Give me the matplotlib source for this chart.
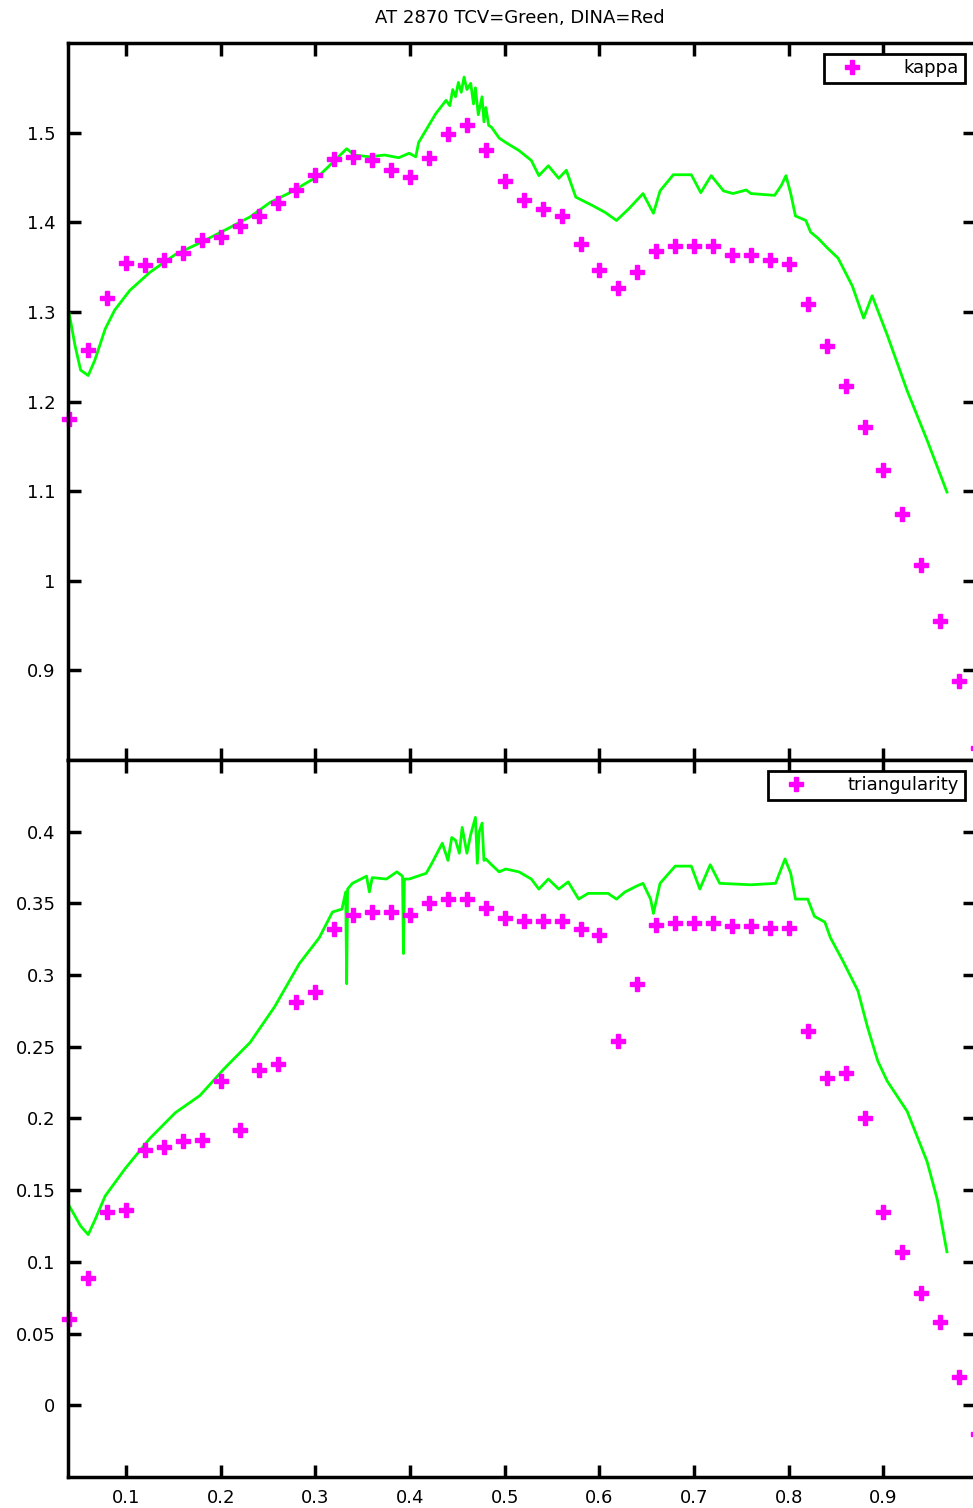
import matplotlib
matplotlib.use("Agg")
import matplotlib.pyplot as plt
import numpy as np

# DINA points (every 0.02 in normalised flux)
x_dina = [0.04, 0.06, 0.08, 0.10, 0.12, 0.14, 0.16, 0.18, 0.20, 0.22, 0.24, 0.26,
          0.28, 0.30, 0.32, 0.34, 0.36, 0.38, 0.40, 0.42, 0.44, 0.46, 0.48, 0.50,
          0.52, 0.54, 0.56, 0.58, 0.60, 0.62, 0.64, 0.66, 0.68, 0.70, 0.72, 0.74,
          0.76, 0.78, 0.80, 0.82, 0.84, 0.86, 0.88, 0.90, 0.92, 0.94, 0.96, 0.98, 1.00]
kappa_dina = [1.180, 1.257, 1.316, 1.354, 1.352, 1.358, 1.366, 1.380, 1.384, 1.396,
              1.407, 1.422, 1.436, 1.453, 1.471, 1.473, 1.469, 1.458, 1.451, 1.472,
              1.498, 1.509, 1.481, 1.446, 1.425, 1.415, 1.407, 1.376, 1.347, 1.327,
              1.345, 1.368, 1.374, 1.373, 1.373, 1.364, 1.363, 1.358, 1.353, 1.309,
              1.262, 1.217, 1.171, 1.124, 1.074, 1.018, 0.955, 0.888, 0.813]
tri_dina = [0.060, 0.089, 0.135, 0.136, 0.178, 0.180, 0.184, 0.185, 0.226, 0.192,
            0.234, 0.238, 0.281, 0.288, 0.332, 0.342, 0.344, 0.344, 0.342, 0.350,
            0.353, 0.353, 0.347, 0.340, 0.338, 0.338, 0.338, 0.332, 0.328, 0.254,
            0.294, 0.335, 0.336, 0.336, 0.336, 0.334, 0.334, 0.333, 0.333, 0.261,
            0.228, 0.232, 0.200, 0.135, 0.107, 0.078, 0.058, 0.020, -0.020]

# TCV profiles
x_tcv_k = [0.040, 0.046, 0.052, 0.060, 0.067, 0.078, 0.088, 0.104, 0.125, 0.152,
           0.178, 0.204, 0.231, 0.252, 0.273, 0.294, 0.304, 0.333, 0.341, 0.357,
           0.373, 0.388, 0.399, 0.406, 0.409, 0.427, 0.438, 0.442, 0.445, 0.448,
           0.451, 0.454, 0.457, 0.460, 0.464, 0.467, 0.469, 0.472, 0.476, 0.478,
           0.480, 0.483, 0.486, 0.494, 0.501, 0.515, 0.528, 0.536, 0.546, 0.557,
           0.565, 0.575, 0.592, 0.606, 0.618, 0.631, 0.646, 0.657, 0.664, 0.678,
           0.697, 0.707, 0.718, 0.731, 0.741, 0.755, 0.760, 0.785, 0.792, 0.797,
           0.802, 0.807, 0.818, 0.823, 0.831, 0.841, 0.852, 0.867, 0.879, 0.888,
           0.904, 0.925, 0.946, 0.967]
kappa_tcv = [1.298, 1.263, 1.235, 1.229, 1.246, 1.281, 1.302, 1.324, 1.344, 1.364,
             1.377, 1.391, 1.406, 1.422, 1.433, 1.446, 1.452, 1.482, 1.475, 1.473,
             1.475, 1.472, 1.477, 1.473, 1.489, 1.521, 1.536, 1.530, 1.548, 1.540,
             1.556, 1.545, 1.562, 1.548, 1.555, 1.532, 1.550, 1.520, 1.540, 1.512,
             1.528, 1.508, 1.506, 1.494, 1.489, 1.480, 1.469, 1.452, 1.463, 1.449,
             1.458, 1.428, 1.419, 1.411, 1.402, 1.415, 1.432, 1.410, 1.435, 1.453,
             1.453, 1.433, 1.452, 1.435, 1.432, 1.436, 1.432, 1.430, 1.441, 1.452,
             1.432, 1.407, 1.402, 1.389, 1.382, 1.371, 1.360, 1.329, 1.293, 1.318,
             1.274, 1.212, 1.157, 1.099]

x_tcv_t = [0.040, 0.052, 0.060, 0.067, 0.078, 0.099, 0.125, 0.152, 0.178, 0.204,
           0.231, 0.257, 0.283, 0.304, 0.318, 0.328, 0.332, 0.333, 0.334, 0.339,
           0.354, 0.357, 0.360, 0.375, 0.386, 0.392, 0.393, 0.394, 0.399, 0.417,
           0.423, 0.434, 0.440, 0.444, 0.448, 0.452, 0.455, 0.460, 0.464, 0.469,
           0.471, 0.473, 0.476, 0.478, 0.480, 0.486, 0.494, 0.501, 0.515, 0.528,
           0.536, 0.546, 0.557, 0.567, 0.578, 0.588, 0.609, 0.618, 0.627, 0.639,
           0.646, 0.654, 0.657, 0.664, 0.680, 0.697, 0.706, 0.717, 0.727, 0.760,
           0.786, 0.796, 0.802, 0.807, 0.820, 0.827, 0.838, 0.844, 0.857, 0.873,
           0.883, 0.894, 0.904, 0.925, 0.946, 0.957, 0.967]
tri_tcv = [0.139, 0.125, 0.119, 0.129, 0.146, 0.165, 0.186, 0.204, 0.216, 0.235,
           0.253, 0.278, 0.308, 0.326, 0.344, 0.346, 0.358, 0.294, 0.360, 0.364,
           0.369, 0.358, 0.368, 0.367, 0.372, 0.369, 0.315, 0.367, 0.367, 0.371,
           0.378, 0.392, 0.380, 0.396, 0.394, 0.385, 0.403, 0.385, 0.398, 0.410,
           0.378, 0.400, 0.406, 0.380, 0.381, 0.377, 0.372, 0.374, 0.372, 0.367,
           0.360, 0.367, 0.360, 0.365, 0.353, 0.357, 0.357, 0.353, 0.358, 0.362,
           0.364, 0.353, 0.343, 0.364, 0.376, 0.376, 0.360, 0.377, 0.364, 0.363,
           0.364, 0.381, 0.371, 0.353, 0.353, 0.341, 0.337, 0.326, 0.310, 0.289,
           0.264, 0.240, 0.226, 0.205, 0.170, 0.143, 0.107]

kappa_ticks = [0.9, 1.0, 1.1, 1.2, 1.3, 1.4, 1.5]
kappa_ticklabels = ["0.9", "1", "1.1", "1.2", "1.3", "1.4", "1.5"]
tri_ticks = [0, 0.05, 0.1, 0.15, 0.2, 0.25, 0.3, 0.35, 0.4]
tri_ticklabels = ["0", "0.05", "0.1", "0.15", "0.2", "0.25", "0.3", "0.35", "0.4"]
x_ticks = [0.1, 0.2, 0.3, 0.4, 0.5, 0.6, 0.7, 0.8, 0.9]

green = "#00ff00"
magenta = "#ff00ff"

fig = plt.figure(figsize=(9.73, 15.08), dpi=100)
ax1 = fig.add_axes([0.0699, 0.496, 0.9325, 0.4755])
ax2 = fig.add_axes([0.0699, 0.0206, 0.9325, 0.4754], sharex=ax1)

for ax in (ax1, ax2):
    for s in ax.spines.values():
        s.set_linewidth(2.5)
    ax.tick_params(direction="in", length=9, width=2.5, top=True, right=True,
                   labelsize=13, pad=9)

ax1.plot(x_tcv_k, kappa_tcv, color=green, lw=2)
ax1.plot(x_dina, kappa_dina, ls="none", marker="P", ms=10, color=magenta,
         clip_on=False, label="kappa")
ax1.set_ylim(0.8, 1.6)
ax1.set_yticks(kappa_ticks)
ax1.set_yticklabels(kappa_ticklabels)
ax1.tick_params(labelbottom=False)
leg1 = ax1.legend(loc="upper right", fancybox=False, edgecolor="black", framealpha=1,
                  fontsize=13, handlelength=2.5, handletextpad=1.6, borderpad=0.3,
                  borderaxespad=0.6)
leg1.get_frame().set_linewidth(2)
fig.text(0.534, 0.988, "AT 2870 TCV=Green, DINA=Red", fontsize=13,
         ha="center", va="center")

ax2.plot(x_tcv_t, tri_tcv, color=green, lw=2)
ax2.plot(x_dina, tri_dina, ls="none", marker="P", ms=10, color=magenta,
         clip_on=False, label="triangularity")
ax2.set_ylim(-0.05, 0.45)
ax2.set_yticks(tri_ticks)
ax2.set_yticklabels(tri_ticklabels)
ax2.set_xlim(0.0387, 0.997)
ax2.set_xticks(x_ticks)
leg2 = ax2.legend(loc="upper right", fancybox=False, edgecolor="black", framealpha=1,
                  fontsize=13, handlelength=2.5, handletextpad=1.6, borderpad=0.3,
                  borderaxespad=0.6)
leg2.get_frame().set_linewidth(2)

fig.savefig("out.png", dpi=100)
